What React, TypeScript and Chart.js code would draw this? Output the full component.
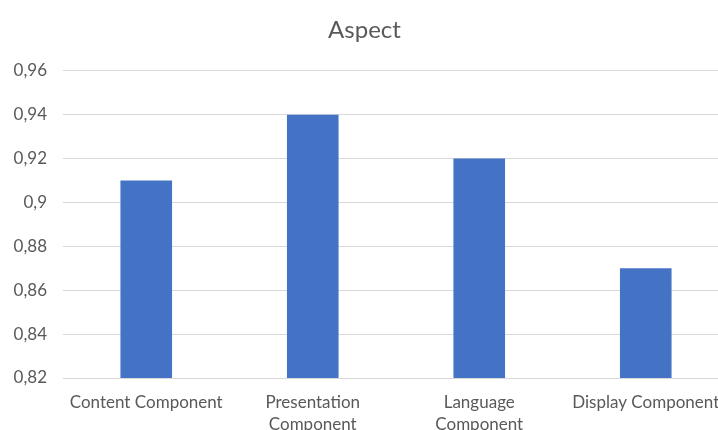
import React, { useEffect, useRef } from "react";
import { Chart, registerables } from "chart.js";

Chart.register(...registerables);

const categories: (string | string[])[] = [
  "Content Component",
  ["Presentation", "Component"],
  ["Language", "Component"],
  "Display Component",
];
const values: number[] = [0.91, 0.94, 0.92, 0.87];
const yTickValues: number[] = [0.82, 0.84, 0.86, 0.88, 0.9, 0.92, 0.94, 0.96];
const yTickLabels: string[] = ["0,82", "0,84", "0,86", "0,88", "0,9", "0,92", "0,94", "0,96"];
const chartTitle = "Aspect";

export default function App() {
  const ref = useRef<HTMLCanvasElement | null>(null);
  useEffect(() => {
    document.body.style.margin = "0";
    const canvas = ref.current;
    if (!canvas) return;
    const font = "Lato";
    const chart = new Chart(canvas, {
      type: "bar",
      data: {
        labels: categories,
        datasets: [
          {
            label: chartTitle,
            data: values,
            backgroundColor: "#4472C4",
            borderWidth: 0,
            categoryPercentage: 1,
            barPercentage: 0.31,
          },
        ],
      },
      options: {
        responsive: false,
        animation: false,
        devicePixelRatio: 1,
        layout: { padding: { left: 0, right: 21, top: 0, bottom: 0 } },
        plugins: {
          legend: { display: false },
          tooltip: { enabled: false },
          title: {
            display: true,
            text: chartTitle,
            color: "#595959",
            font: { family: font, size: 24, weight: "normal" },
            padding: { top: 16, bottom: 26 },
          },
        },
        scales: {
          x: {
            grid: { display: false, drawTicks: false },
            border: { display: true, color: "#d9d9d9" },
            ticks: {
              color: "#595959",
              font: { family: font, size: 17, lineHeight: 1.3 },
              padding: 13,
              maxRotation: 0,
              autoSkip: false,
            },
            afterFit: (s: any) => {
              s.height = 52;
            },
          },
          y: {
            min: 0.82,
            max: 0.96,
            grid: { color: "#d9d9d9", drawTicks: false },
            border: { display: false },
            afterBuildTicks: (s: any) => {
              s.ticks = yTickValues.map((v) => ({ value: v }));
            },
            ticks: {
              color: "#595959",
              font: { family: font, size: 17 },
              padding: 16,
              callback: (_v: any, i: number) => yTickLabels[i],
            },
            afterFit: (s: any) => {
              s.width = 63;
            },
          },
        },
      },
    });
    return () => chart.destroy();
  }, []);
  return (
    <div style={{ width: 718, height: 430, overflow: "hidden", position: "relative", background: "#fff" }}>
      <canvas ref={ref} width={750} height={430} style={{ display: "block" }} />
    </div>
  );
}
